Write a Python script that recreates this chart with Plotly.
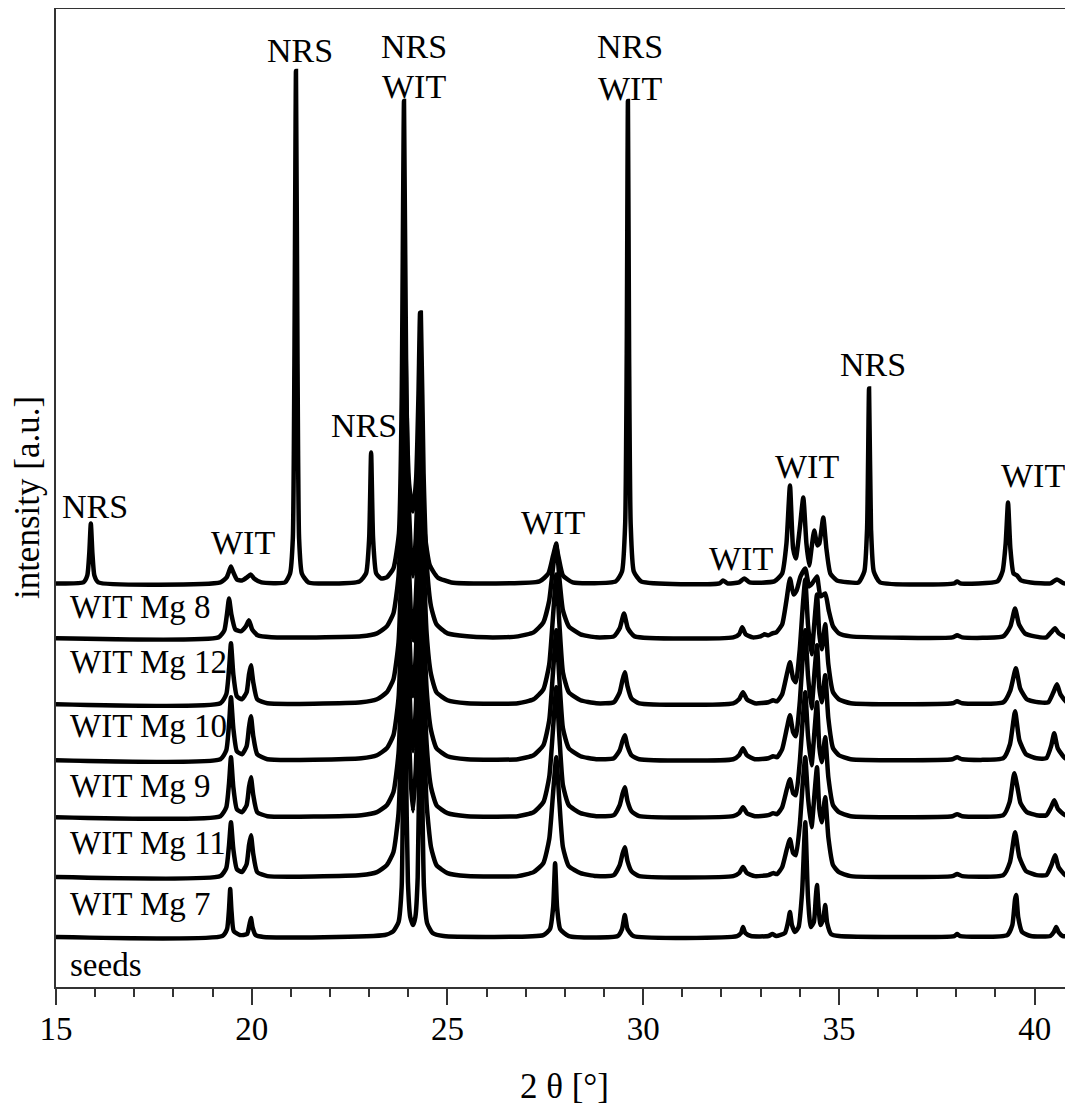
import plotly.graph_objects as go

# ---- data (2theta in degrees, intensity in a.u. above each pattern's baseline) ----
names = ["WIT Mg 8", "WIT Mg 12", "WIT Mg 10", "WIT Mg 9", "WIT Mg 11", "WIT Mg 7", "seeds"]
offsets = [404, 349, 283, 227, 170, 110, 50]

pattern_mg8 = [
    (15.00, 0), (15.70, 1), (15.80, 8), (15.85, 30), (15.89, 60), (15.93, 30), (15.98, 8), (16.08, 1),
    (19.20, 1), (19.36, 6), (19.43, 13), (19.47, 17), (19.52, 12), (19.62, 4), (19.75, 3), (19.88, 6), (19.97, 9), (20.06, 5), (20.25, 1),
    (20.85, 1), (20.98, 10), (21.05, 45), (21.09, 220), (21.13, 513), (21.17, 220), (21.21, 45), (21.28, 10), (21.45, 1),
    (22.75, 2), (22.92, 10), (23.00, 45), (23.05, 131), (23.10, 45), (23.18, 10), (23.30, 5),
    (23.45, 6), (23.62, 15), (23.76, 50), (23.83, 180), (23.89, 483), (23.95, 190), (24.02, 100), (24.12, 72), (24.20, 105),
    (24.26, 190), (24.30, 271), (24.35, 140), (24.42, 50), (24.55, 18), (24.75, 6), (25.10, 1),
    (27.35, 2), (27.58, 10), (27.70, 28), (27.77, 38), (27.84, 26), (27.95, 8), (28.20, 1),
    (29.30, 2), (29.46, 12), (29.54, 60), (29.58, 230), (29.61, 483), (29.64, 230), (29.68, 60), (29.76, 12), (29.95, 2),
    (31.95, 0), (32.04, 3), (32.15, 0), (32.45, 1), (32.58, 5), (32.72, 1),
    (33.35, 2), (33.55, 10), (33.66, 40), (33.75, 98), (33.83, 35), (33.90, 25), (34.00, 55), (34.09, 86), (34.17, 40),
    (34.24, 18), (34.30, 35), (34.37, 53), (34.45, 38), (34.50, 40), (34.60, 66), (34.68, 35), (34.78, 10), (34.95, 3),
    (35.50, 1), (35.65, 12), (35.72, 55), (35.77, 195), (35.82, 55), (35.89, 12), (36.05, 1),
    (37.95, 0), (38.02, 2), (38.10, 0),
    (39.05, 2), (39.18, 12), (39.26, 40), (39.32, 81), (39.38, 35), (39.46, 10), (39.55, 8), (39.65, 3), (39.90, 1),
    (40.40, 0), (40.57, 4), (40.75, 0), (40.98, 0),
]

pattern_mg12 = [
    (15.00, 0), (19.15, 1), (19.30, 8), (19.37, 25), (19.42, 40), (19.48, 24), (19.58, 9), (19.72, 7), (19.85, 12), (19.93, 18), (20.01, 9), (20.15, 3), (20.50, 1),
    (22.80, 2), (23.20, 5), (23.45, 12), (23.62, 25), (23.75, 62), (23.84, 155), (23.92, 300), (23.99, 160), (24.06, 90), (24.12, 62),
    (24.19, 100), (24.26, 180), (24.32, 326), (24.39, 165), (24.47, 75), (24.58, 32), (24.72, 14), (25.00, 5), (25.50, 2), (26.00, 1),
    (26.80, 2), (27.20, 6), (27.45, 16), (27.60, 38), (27.70, 72), (27.78, 95), (27.86, 60), (27.95, 28), (28.10, 12), (28.40, 4), (28.80, 1),
    (29.25, 2), (29.40, 10), (29.51, 25), (29.61, 10), (29.78, 2),
    (32.30, 1), (32.45, 4), (32.53, 11), (32.62, 4), (32.80, 1), (33.00, 2), (33.10, 4), (33.20, 3), (33.30, 5), (33.40, 6),
    (33.55, 14), (33.66, 38), (33.75, 60), (33.84, 44), (33.92, 48), (34.02, 62), (34.14, 70), (34.24, 52), (34.32, 55),
    (34.44, 62), (34.53, 42), (34.65, 45), (34.74, 28), (34.85, 12), (35.00, 5), (35.30, 2),
    (37.90, 1), (38.02, 3), (38.15, 1),
    (39.20, 2), (39.38, 12), (39.50, 30), (39.60, 14), (39.75, 5), (40.00, 2),
    (40.30, 1), (40.42, 6), (40.52, 10), (40.62, 5), (40.80, 1), (40.98, 1),
]

pattern_mg10 = [
    (15.00, 0), (19.20, 1), (19.35, 10), (19.42, 35), (19.47, 61), (19.53, 30), (19.62, 8), (19.75, 5), (19.87, 12), (19.93, 30), (19.98, 39), (20.04, 22), (20.14, 5), (20.40, 1),
    (22.80, 2), (23.20, 5), (23.45, 12), (23.62, 25), (23.75, 62), (23.84, 165), (23.92, 330), (23.99, 170), (24.06, 95), (24.12, 64),
    (24.19, 105), (24.26, 175), (24.32, 300), (24.39, 155), (24.47, 70), (24.58, 30), (24.72, 12), (25.00, 4), (25.50, 1),
    (26.80, 1), (27.20, 5), (27.45, 15), (27.60, 40), (27.70, 90), (27.78, 130), (27.86, 80), (27.95, 32), (28.10, 12), (28.40, 4), (28.80, 1),
    (29.25, 2), (29.40, 12), (29.47, 24), (29.53, 32), (29.60, 18), (29.70, 6), (29.90, 1),
    (32.30, 1), (32.45, 5), (32.55, 12), (32.65, 5), (32.85, 1), (33.20, 2), (33.32, 4), (33.42, 3),
    (33.55, 10), (33.67, 30), (33.75, 42), (33.83, 26), (33.90, 22), (34.00, 55), (34.08, 100), (34.14, 125), (34.21, 80),
    (34.30, 50), (34.38, 85), (34.44, 110), (34.50, 70), (34.56, 55), (34.65, 80), (34.73, 40), (34.85, 12), (35.00, 5), (35.30, 1),
    (37.90, 1), (38.02, 3), (38.15, 1),
    (39.20, 2), (39.38, 14), (39.52, 36), (39.63, 16), (39.80, 5), (40.10, 2),
    (40.35, 2), (40.48, 12), (40.57, 20), (40.66, 10), (40.82, 2), (40.98, 1),
]

pattern_mg9 = [
    (15.00, 0), (19.20, 1), (19.35, 10), (19.42, 36), (19.47, 63), (19.53, 32), (19.62, 9), (19.75, 6), (19.87, 14), (19.93, 33), (19.98, 44), (20.04, 24), (20.14, 6), (20.40, 1),
    (22.80, 2), (23.20, 5), (23.45, 12), (23.62, 25), (23.75, 62), (23.84, 165), (23.92, 330), (23.99, 170), (24.06, 95), (24.12, 64),
    (24.19, 105), (24.26, 180), (24.32, 310), (24.39, 155), (24.47, 70), (24.58, 30), (24.72, 12), (25.00, 4), (25.50, 1),
    (26.80, 1), (27.20, 5), (27.45, 15), (27.60, 40), (27.70, 90), (27.78, 130), (27.86, 80), (27.95, 32), (28.10, 12), (28.40, 4), (28.80, 1),
    (29.25, 2), (29.40, 10), (29.47, 19), (29.53, 25), (29.60, 14), (29.70, 5), (29.90, 1),
    (32.30, 1), (32.45, 5), (32.55, 12), (32.65, 5), (32.85, 1), (33.20, 2), (33.32, 4), (33.42, 3),
    (33.55, 11), (33.67, 32), (33.75, 45), (33.83, 28), (33.90, 24), (34.00, 58), (34.08, 105), (34.14, 130), (34.21, 85),
    (34.30, 52), (34.38, 90), (34.44, 115), (34.50, 72), (34.56, 58), (34.65, 85), (34.73, 42), (34.85, 12), (35.00, 5), (35.30, 1),
    (37.90, 1), (38.02, 3), (38.15, 1),
    (39.20, 2), (39.37, 16), (39.50, 49), (39.61, 20), (39.78, 6), (40.05, 2),
    (40.30, 2), (40.42, 14), (40.50, 27), (40.59, 12), (40.78, 2), (40.98, 1),
]

pattern_mg11 = [
    (15.00, 0), (19.20, 1), (19.35, 10), (19.42, 34), (19.47, 60), (19.53, 30), (19.62, 8), (19.75, 5), (19.87, 12), (19.93, 30), (19.98, 40), (20.04, 22), (20.14, 5), (20.40, 1),
    (22.80, 2), (23.20, 5), (23.45, 12), (23.62, 25), (23.75, 64), (23.84, 170), (23.92, 340), (23.99, 175), (24.06, 98), (24.12, 66),
    (24.19, 108), (24.26, 185), (24.32, 320), (24.39, 160), (24.47, 72), (24.58, 30), (24.72, 12), (25.00, 4), (25.50, 1),
    (26.80, 1), (27.20, 5), (27.45, 15), (27.60, 40), (27.70, 90), (27.78, 130), (27.86, 80), (27.95, 32), (28.10, 12), (28.40, 4), (28.80, 1),
    (29.25, 2), (29.40, 12), (29.47, 23), (29.53, 30), (29.60, 16), (29.70, 6), (29.90, 1),
    (32.30, 1), (32.45, 4), (32.55, 10), (32.65, 4), (32.85, 1), (33.20, 2), (33.32, 4), (33.42, 3),
    (33.55, 10), (33.67, 28), (33.75, 38), (33.83, 24), (33.90, 22), (34.00, 55), (34.08, 100), (34.14, 125), (34.21, 82),
    (34.30, 52), (34.38, 88), (34.44, 115), (34.50, 70), (34.56, 55), (34.65, 80), (34.73, 40), (34.85, 12), (35.00, 5), (35.30, 1),
    (37.90, 1), (38.02, 3), (38.15, 1),
    (39.20, 2), (39.36, 15), (39.48, 44), (39.56, 30), (39.64, 14), (39.80, 5), (40.05, 2),
    (40.30, 2), (40.42, 10), (40.50, 17), (40.60, 8), (40.78, 2), (40.98, 1),
]

pattern_mg7 = [
    (15.00, 0), (19.20, 1), (19.35, 9), (19.42, 32), (19.47, 55), (19.53, 28), (19.62, 8), (19.75, 5), (19.87, 13), (19.93, 32), (19.98, 42), (20.04, 23), (20.14, 5), (20.40, 1),
    (22.80, 2), (23.20, 5), (23.45, 12), (23.62, 25), (23.75, 64), (23.84, 175), (23.92, 350), (23.99, 178), (24.06, 98), (24.12, 66),
    (24.19, 108), (24.26, 188), (24.32, 330), (24.39, 165), (24.47, 72), (24.58, 30), (24.72, 12), (25.00, 4), (25.50, 1),
    (26.80, 1), (27.20, 5), (27.45, 14), (27.60, 38), (27.70, 85), (27.78, 120), (27.86, 75), (27.95, 30), (28.10, 11), (28.40, 4), (28.80, 1),
    (29.25, 2), (29.40, 12), (29.47, 23), (29.53, 30), (29.60, 16), (29.70, 6), (29.90, 1),
    (32.30, 1), (32.45, 4), (32.55, 10), (32.65, 4), (32.85, 1), (33.20, 2), (33.32, 4), (33.42, 3),
    (33.55, 10), (33.67, 28), (33.75, 38), (33.83, 24), (33.90, 22), (34.00, 52), (34.08, 96), (34.14, 120), (34.21, 80),
    (34.30, 50), (34.38, 85), (34.44, 110), (34.50, 68), (34.56, 55), (34.65, 80), (34.73, 40), (34.85, 12), (35.00, 5), (35.30, 1),
    (37.90, 1), (38.02, 3), (38.15, 1),
    (39.20, 2), (39.37, 15), (39.50, 45), (39.61, 20), (39.78, 6), (40.05, 2),
    (40.30, 2), (40.43, 12), (40.52, 22), (40.61, 10), (40.78, 2), (40.98, 1),
]

pattern_seeds = [
    (15.00, 0), (19.25, 1), (19.37, 8), (19.42, 28), (19.45, 48), (19.48, 28), (19.54, 6), (19.70, 2), (19.88, 3), (19.94, 12), (19.98, 19), (20.02, 10), (20.10, 2), (20.30, 0),
    (23.40, 2), (23.62, 6), (23.75, 15), (23.83, 50), (23.87, 180), (23.90, 400), (23.94, 180), (23.99, 55), (24.05, 20), (24.12, 12),
    (24.18, 20), (24.24, 60), (24.28, 180), (24.31, 380), (24.35, 170), (24.40, 50), (24.48, 14), (24.62, 4), (24.90, 1),
    (27.45, 2), (27.62, 8), (27.70, 30), (27.75, 74), (27.80, 30), (27.88, 8), (28.10, 1),
    (29.35, 1), (29.46, 8), (29.53, 22), (29.60, 8), (29.75, 1),
    (32.40, 1), (32.50, 4), (32.55, 10), (32.61, 4), (32.75, 1), (33.20, 1), (33.30, 3), (33.40, 1),
    (33.62, 4), (33.70, 15), (33.75, 25), (33.80, 12), (33.88, 5), (33.97, 10), (34.06, 45), (34.14, 115), (34.21, 40),
    (34.28, 10), (34.36, 15), (34.41, 40), (34.44, 52), (34.48, 30), (34.53, 12), (34.60, 18), (34.65, 32), (34.70, 14), (34.80, 3), (35.00, 1),
    (37.95, 1), (38.02, 3), (38.10, 1),
    (39.30, 2), (39.43, 12), (39.50, 38), (39.53, 42), (39.58, 20), (39.68, 5), (39.90, 1),
    (40.40, 1), (40.49, 5), (40.55, 10), (40.61, 5), (40.72, 1), (40.98, 1),
]

patterns = [pattern_mg8, pattern_mg12, pattern_mg10, pattern_mg9, pattern_mg11, pattern_mg7, pattern_seeds]

# sample labels (left edge in 2theta, vertical level in a.u.)
label_x = 15.31
label_y = [380, 325, 261, 201, 144, 83, 22]

# phase labels
phase_text = ["NRS", "WIT", "NRS", "NRS", "NRS", "WIT", "WIT", "NRS", "WIT", "WIT", "WIT", "NRS", "WIT"]
phase_x = [16.00, 19.78, 21.23, 22.87, 24.15, 24.15, 27.70, 29.67, 29.67, 32.50, 34.19, 35.87, 39.96]
phase_y = [481, 445, 937, 562, 941, 901, 465, 941, 899, 429, 521, 623, 512]

# ---- figure ----
FONT = "Liberation Serif, Times New Roman, Times, serif"
AXIS_COLOR = "#333333"

fig = go.Figure()
for name, off, pat in zip(names, offsets, patterns):
    xs = [p[0] for p in pat]
    ys = [p[1] + off for p in pat]
    fig.add_trace(go.Scatter(x=xs, y=ys, mode="lines", name=name,
                             line=dict(color="black", width=4.5, shape="spline", smoothing=0.5)))

for name, y in zip(names, label_y):
    fig.add_annotation(x=label_x, y=y, text=name, showarrow=False,
                       xanchor="left", yanchor="middle",
                       font=dict(family=FONT, size=33, color="black"))

for t, x, y in zip(phase_text, phase_x, phase_y):
    fig.add_annotation(x=x, y=y, text=t, showarrow=False,
                       xanchor="center", yanchor="middle",
                       font=dict(family=FONT, size=34, color="black"))

fig.add_shape(type="line", xref="paper", yref="paper", x0=0, x1=1, y0=1, y1=1,
              line=dict(color=AXIS_COLOR, width=2))

fig.update_layout(
    width=1065, height=1106,
    margin=dict(l=48, r=0, t=0, b=127),
    plot_bgcolor="white", paper_bgcolor="white",
    showlegend=False,
    font=dict(family=FONT, color="black"),
)
fig.update_xaxes(
    range=[15, 40.98], tickmode="linear", tick0=15, dtick=5,
    ticks="outside", ticklen=16, tickwidth=1.5, tickcolor=AXIS_COLOR,
    minor=dict(dtick=1, tick0=15, ticks="outside", ticklen=8, tickwidth=1.5, tickcolor=AXIS_COLOR),
    showline=True, linecolor=AXIS_COLOR, linewidth=2,
    showgrid=False, zeroline=False,
    ticklabelstandoff=-5,
    tickfont=dict(family=FONT, size=33, color="black"),
    title=dict(text="2 θ [°]", font=dict(family=FONT, size=35, color="black"), standoff=28),
)
fig.update_yaxes(
    range=[0, 980], showticklabels=False, ticks="",
    showline=True, linecolor=AXIS_COLOR, linewidth=2,
    showgrid=False, zeroline=False,
    title=dict(text="intensity [a.u.]", font=dict(family=FONT, size=35, color="black"), standoff=6),
)

fig.write_html("out.html")
